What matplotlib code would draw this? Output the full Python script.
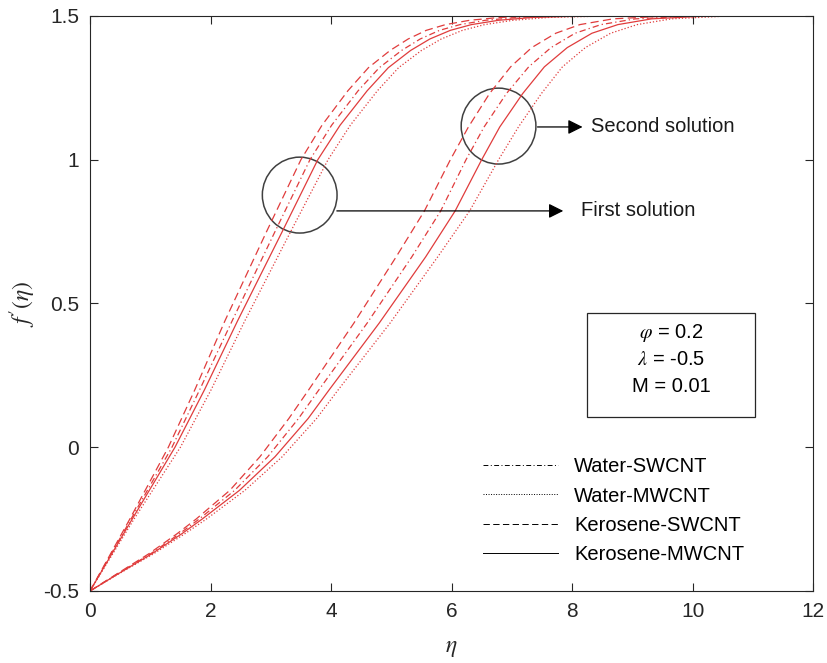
import matplotlib
matplotlib.use('Agg')
import matplotlib.pyplot as plt
from matplotlib.lines import Line2D
from matplotlib.patches import Ellipse, Rectangle

plt.rcParams['font.family'] = ['Liberation Sans', 'DejaVu Sans']
plt.rcParams['mathtext.fontset'] = 'stix'
plt.rcParams['axes.unicode_minus'] = False

# values: eta where each curve reaches the given f'(eta)
f_first = [-0.5, -0.25, 0.0, 0.2, 0.44, 0.75, 1.0, 1.12, 1.24, 1.32, 1.38, 1.42, 1.45,
           1.47, 1.485, 1.495, 1.5, 1.5]
eta_first_ks = [0, 0.66, 1.30, 1.74, 2.24, 2.93, 3.50, 3.85, 4.28, 4.62, 4.98, 5.28, 5.58,
                5.90, 6.30, 6.80, 7.5, 12]
eta_first_ws = [0, 0.68, 1.36, 1.82, 2.36, 3.07, 3.65, 4.01, 4.45, 4.80, 5.17, 5.48, 5.80,
                6.14, 6.56, 7.10, 7.9, 12]
eta_first_km = [0, 0.70, 1.41, 1.90, 2.45, 3.19, 3.78, 4.15, 4.60, 4.95, 5.32, 5.64, 5.98,
                6.33, 6.78, 7.35, 8.2, 12]
eta_first_wm = [0, 0.73, 1.50, 2.01, 2.57, 3.33, 3.95, 4.32, 4.77, 5.12, 5.50, 5.83, 6.18,
                6.55, 7.02, 7.62, 8.6, 12]

f_second = [-0.5, -0.44, -0.37, -0.30, -0.25, -0.15, -0.033, 0.1, 0.2, 0.432, 0.662, 0.822,
            1.0, 1.114, 1.23, 1.323, 1.39, 1.44, 1.47, 1.49, 1.5, 1.5]
eta_second_ks = [0, 0.45, 0.98, 1.45, 1.76, 2.32, 2.82, 3.30, 3.63, 4.38, 5.08, 5.55,
                 5.98, 6.28, 6.63, 6.98, 7.33, 7.73, 8.13, 8.68, 9.6, 12]
eta_second_ws = [0, 0.46, 1.01, 1.49, 1.81, 2.40, 2.95, 3.46, 3.80, 4.60, 5.34, 5.82,
                 6.24, 6.54, 6.91, 7.28, 7.65, 8.05, 8.48, 9.05, 10.0, 12]
eta_second_km = [0, 0.47, 1.03, 1.53, 1.86, 2.48, 3.07, 3.62, 3.97, 4.80, 5.57, 6.06,
                 6.50, 6.80, 7.18, 7.54, 7.92, 8.33, 8.76, 9.32, 10.25, 12]
eta_second_wm = [0, 0.48, 1.06, 1.58, 1.93, 2.57, 3.19, 3.76, 4.12, 4.98, 5.77, 6.30,
                 6.78, 7.11, 7.49, 7.84, 8.22, 8.64, 9.08, 9.65, 10.6, 12]

labels = ['Water-SWCNT', 'Water-MWCNT', 'Kerosene-SWCNT', 'Kerosene-MWCNT']

red = '#e03c3c'
dashed = (0, (6.5, 3.5))
dashdot = (0, (5, 2.5, 1, 2.5))
dotted = (0, (1, 1.6))

fig = plt.figure(figsize=(8.28, 6.63), dpi=100)
ax = fig.add_axes([0.1087, 0.1086, 0.8733, 0.8673])

first = [eta_first_ws, eta_first_wm, eta_first_ks, eta_first_km]
second = [eta_second_ws, eta_second_wm, eta_second_ks, eta_second_km]
styles = [dashdot, dotted, dashed, '-']
for eta1, eta2, ls in zip(first, second, styles):
    ax.plot(eta1, f_first, color=red, lw=0.9, ls=ls)
    ax.plot(eta2, f_second, color=red, lw=0.9, ls=ls)

ax.set_xlim(0, 12)
ax.set_ylim(-0.5, 1.5)
ax.set_xticks([0, 2, 4, 6, 8, 10, 12])
ax.set_yticks([-0.5, 0, 0.5, 1, 1.5])
ax.set_yticklabels(['-0.5', '0', '0.5', '1', '1.5'])
ax.tick_params(direction='in', top=True, right=True, length=6, width=0.8,
               labelsize=15, colors='#262626', pad=8)
for s in ax.spines.values():
    s.set_color('#262626')
    s.set_linewidth(0.8)

ax.set_xlabel(r'$\eta$', fontsize=17, color='#262626')
ax.xaxis.set_label_coords(0.5, -0.08)
ax.set_ylabel(r"$f^{\prime}(\eta)$", fontsize=17, color='#262626')
ax.yaxis.set_label_coords(-0.072, 0.5)

# circles and arrows
for cx, cy in [(3.48, 0.877), (6.78, 1.117)]:
    ax.add_patch(Ellipse((cx, cy), 1.24, 0.264, fill=False, ec='#404040', lw=1.1))
ax.annotate('', xy=(7.9, 0.822), xytext=(4.05, 0.822),
            arrowprops=dict(arrowstyle='-|>', color='black', lw=0.9, mutation_scale=22))
ax.annotate('', xy=(8.22, 1.114), xytext=(7.38, 1.114),
            arrowprops=dict(arrowstyle='-|>', color='black', lw=0.9, mutation_scale=22))
ax.text(8.14, 0.822, 'First solution', fontsize=14.5, va='center', color='#1a1a1a')
ax.text(8.31, 1.114, 'Second solution', fontsize=14.5, va='center', color='#1a1a1a')

# parameter box
ax.add_patch(Rectangle((0.687, 0.3026), 0.233, 0.181, transform=ax.transAxes,
                       fill=False, ec='#262626', lw=0.9))
ax.text(0.8035, 0.449, r'$\varphi$ = 0.2', transform=ax.transAxes, ha='center',
        va='center', fontsize=14.5)
ax.text(0.8035, 0.402, r'$\lambda$ = -0.5', transform=ax.transAxes, ha='center',
        va='center', fontsize=14.5)
ax.text(0.8035, 0.355, 'M = 0.01', transform=ax.transAxes, ha='center',
        va='center', fontsize=14.5)

handles = [Line2D([], [], color='black', lw=0.7, ls=ls) for ls in styles]
ax.legend(handles, labels, loc='lower left', bbox_to_anchor=(0.519, 0.016),
          frameon=False, fontsize=14.5, handlelength=3.7, handletextpad=0.8,
          labelspacing=0.5)

fig.savefig('out.png', dpi=100)
